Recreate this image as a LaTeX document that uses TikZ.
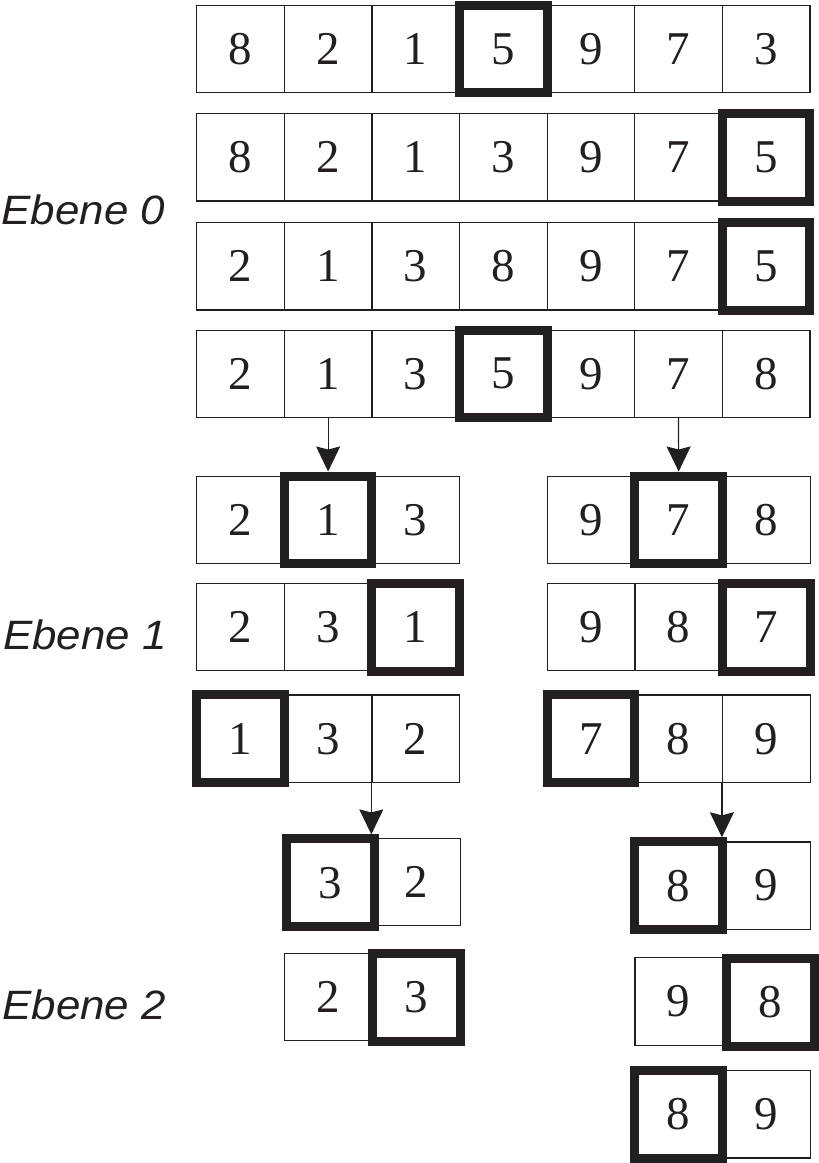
\documentclass[tikz,border=0pt]{standalone}
\usepackage{fontspec}
\usetikzlibrary{arrows.meta}
\newfontfamily\numfont{Liberation Serif}
\newfontfamily\labfont{Liberation Sans}
\definecolor{ink}{HTML}{231F20}
\newcommand{\widelab}[1]{\scalebox{1.07}[1]{#1}}
\tikzset{
  x=1pt, y=-1pt,
  cell/.style={draw=ink, line width=1.2pt, minimum width=87.6pt, minimum height=87.3pt,
    inner sep=0pt, text=ink, font=\numfont\fontsize{47}{47}\selectfont},
  pivot/.style={draw=ink, line width=9pt, minimum width=87.6pt, minimum height=87.6pt, inner sep=0pt},
  arr/.style={draw=ink, line width=1.2pt, -{Stealth[width=24pt,length=25pt,inset=3pt]}},
  lab/.style={anchor=base west, inner sep=0pt, text=ink, font=\labfont\itshape\fontsize{41}{41}\selectfont}
}
\begin{document}
\begin{tikzpicture}
\useasboundingbox (0,0) rectangle (819,1163);
% Ebene 0
\foreach \v [count=\i] in {8,2,1,5,9,7,3}
  \node[cell] (ra\i) at ({196.7+87.6*(\i-0.5)},49) {\v};
\foreach \v [count=\i] in {8,2,1,3,9,7,5}
  \node[cell] (rb\i) at ({196.7+87.6*(\i-0.5)},157.3) {\v};
\foreach \v [count=\i] in {2,1,3,8,9,7,5}
  \node[cell] (rc\i) at ({196.7+87.6*(\i-0.5)},266.3) {\v};
\foreach \v [count=\i] in {2,1,3,5,9,7,8}
  \node[cell] (rd\i) at ({196.7+87.6*(\i-0.5)},373.8) {\v};
\node[pivot] (pa) at (ra4.center) {};
\node[pivot] (pb) at (rb7.center) {};
\node[pivot] (pc) at (rc7.center) {};
\node[pivot] (pd) at (rd4.center) {};
% Ebene 1, left
\foreach \v [count=\i] in {2,1,3}
  \node[cell] (la\i) at ({196.7+87.6*(\i-0.5)},519.8) {\v};
\foreach \v [count=\i] in {2,3,1}
  \node[cell] (lb\i) at ({196.7+87.6*(\i-0.5)},627.2) {\v};
\foreach \v [count=\i] in {1,3,2}
  \node[cell] (lc\i) at ({196.7+87.6*(\i-0.5)},738.7) {\v};
% Ebene 1, right
\foreach \v [count=\i] in {9,7,8}
  \node[cell] (qa\i) at ({547.3+87.6*(\i-0.5)},519.8) {\v};
\foreach \v [count=\i] in {9,8,7}
  \node[cell] (qb\i) at ({547.3+87.6*(\i-0.5)},627.2) {\v};
\foreach \v [count=\i] in {7,8,9}
  \node[cell] (qc\i) at ({547.3+87.6*(\i-0.5)},738.7) {\v};
\node[pivot] (pla) at (la2.center) {};
\node[pivot] (plb) at (lb3.center) {};
\node[pivot] (plc) at (lc1.center) {};
\node[pivot] (pqa) at (qa2.center) {};
\node[pivot] (pqb) at (qb3.center) {};
\node[pivot] (pqc) at (qc1.center) {};
% Ebene 2, left
\node[cell] (ma1) at (330.3,882.7) {3};
\node[cell] (ma2) at (416.5,882.2) {2};
\node[cell] (mb1) at (328.2,997.0) {2};
\node[cell] (mb2) at (416.3,997.3) {3};
% Ebene 2, right
\node[cell] (na1) at (678.3,885.6) {8};
\node[cell] (na2) at (766.3,885.6) {9};
\node[cell] (nb1) at (678.7,1001.5) {9};
\node[cell] (nb2) at (770.6,1002.5) {8};
\node[cell] (nc1) at (678.3,1114.3) {8};
\node[cell] (nc2) at (766.3,1114.3) {9};
\node[pivot] (pma) at (ma1.center) {};
\node[pivot] (pmb) at (mb2.center) {};
\node[pivot] (pna) at (na1.center) {};
\node[pivot] (pnb) at (nb2.center) {};
\node[pivot] (pnc) at (nc1.center) {};
% arrows
\draw[arr] (rd2.south) -- (pla.north);
\draw[arr] (rd6.south) -- (pqa.north);
\draw[arr] (lc3.south west) -- (lc3.south west |- pma.north);
\draw[arr] (qc3.south west) -- (qc3.south west |- pna.north);
% labels
\node[lab] (e0) at (1.5,224.3) {\widelab{Ebene 0}};
\node[lab] (e1) at (3.0,649.3) {\widelab{Ebene 1}};
\node[lab] (e2) at (2.2,1019) {\widelab{Ebene 2}};
\end{tikzpicture}
\end{document}
